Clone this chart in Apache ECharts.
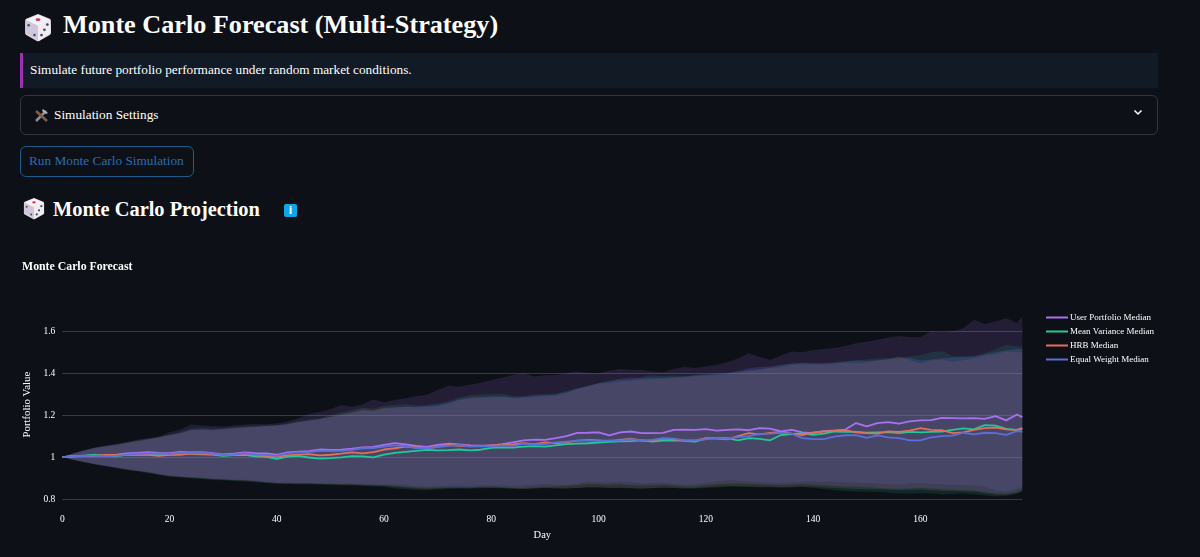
<!DOCTYPE html>
<html>
<head>
<meta charset="utf-8">
<script src="https://cdn.jsdelivr.net/npm/echarts@6/dist/echarts.min.js"></script>
<style>
html,body{margin:0;padding:0;background:#0d1117;width:1200px;height:557px;overflow:hidden;font-family:"Liberation Serif",serif;color:#fff}
.a{position:absolute;white-space:nowrap}
#chart{position:absolute;left:0;top:0;width:1200px;height:557px}
</style>
</head>
<body>
<svg width="0" height="0" style="position:absolute"><defs>
<g id="dice">
<path d="M12 1 L22 5 Q23 5.500 23 7 L23 17 Q23 18.500 22 19 L13 24 Q12 24.500 11 24 L2 19 Q1 18.500 1 17 L1 7 Q1 5.500 2 5 Z" fill="#e6dfe9"/>
<polygon points="12,1.500 22.500,6 12,11 1.500,6" fill="#f6f1f6"/>
<polygon points="12,11 22.500,6 23,17 12,24" fill="#f1ebf2"/>
<polygon points="1.500,6 12,11 12,24 1,17" fill="#cfc7da"/>
<ellipse cx="12" cy="5.800" rx="2" ry="1.200" fill="#e0334a"/>
<circle cx="4" cy="10.500" r="1.100" fill="#4c4668"/><circle cx="9" cy="19" r="1.100" fill="#4c4668"/>
<circle cx="20" cy="10" r="1.200" fill="#4c4668"/><circle cx="17.500" cy="14.500" r="1.200" fill="#4c4668"/><circle cx="15" cy="19" r="1.200" fill="#4c4668"/>
</g></defs></svg>

<svg class="a" style="left:24px;top:12px" width="28" height="31" viewBox="0 0 24 25"><use href="#dice"/></svg>
<div class="a" style="left:63px;top:8px;font-size:26.2px;font-weight:bold;line-height:34px">Monte Carlo Forecast (Multi-Strategy)</div>

<div class="a" style="left:20px;top:53px;width:1135px;height:35px;background:#111a25;border-left:3px solid #a02fb5"></div>
<div class="a" style="left:30px;top:61px;font-size:13.27px;line-height:17px">Simulate future portfolio performance under random market conditions.</div>

<div class="a" style="left:20px;top:95px;width:1136px;height:38px;border:1px solid #30363d;border-radius:6px"></div>
<svg class="a" style="left:34px;top:108px" width="15" height="15" viewBox="0 0 15 15"><path d="M2 13 L12 3" stroke="#8a8f98" stroke-width="2.500"/><path d="M2 3 L13 13" stroke="#8a5a48" stroke-width="2.500"/><path d="M9 1 L14 5 L12 6 L8 3 Z" fill="#aeb2ba"/></svg>
<div class="a" style="left:54px;top:106px;font-size:13.3px;line-height:17px">Simulation Settings</div>
<svg class="a" style="left:1133px;top:109px" width="10" height="7" viewBox="0 0 10 7"><path d="M1.500 1.500 L5 5 L8.500 1.500" fill="none" stroke="#fff" stroke-width="1.500"/></svg>

<div class="a" style="left:20px;top:146px;width:172px;height:29px;border:1px solid #1f5a8a;border-radius:6px"></div>
<div class="a" style="left:29px;top:152px;font-size:13.3px;line-height:17px;color:#2b6cb0">Run Monte Carlo Simulation</div>

<svg class="a" style="left:23px;top:196px" width="22" height="25" viewBox="0 0 24 25"><use href="#dice"/></svg>
<div class="a" style="left:53px;top:196px;font-size:20.4px;font-weight:bold;line-height:26px">Monte Carlo Projection</div>
<div class="a" style="left:284px;top:204px;width:13px;height:13px;background:#0ea5e9;border-radius:2px;font:bold 10px/13px 'DejaVu Sans';text-align:center">i</div>

<div id="chart"></div>
<script>
const days = [
0,2,4,6,8,10,12,14,16,18,
20,22,24,26,28,30,32,34,36,38,
40,42,44,46,48,50,52,54,56,58,
60,62,64,66,68,70,72,74,76,78,
80,82,84,86,88,90,92,94,96,98,
100,102,104,106,108,110,112,114,116,118,
120,122,124,126,128,130,132,134,136,138,
140,142,144,146,148,150,152,154,156,158,
160,162,164,166,168,170,172,174,176,178,179];

const userMedian = [
1,1.004,1.007,1.008,1.009,1.012,1.017,1.02,1.023,1.02,
1.019,1.025,1.022,1.024,1.019,1.013,1.016,1.022,1.019,1.017,
1.011,1.022,1.026,1.028,1.036,1.034,1.035,1.04,1.046,1.048,
1.058,1.066,1.06,1.053,1.049,1.058,1.064,1.06,1.056,1.055,
1.055,1.062,1.07,1.08,1.083,1.082,1.09,1.1,1.115,1.116,
1.118,1.104,1.118,1.122,1.114,1.114,1.115,1.13,1.131,1.13,
1.133,1.126,1.13,1.132,1.128,1.138,1.136,1.122,1.13,1.118,
1.114,1.124,1.127,1.131,1.162,1.146,1.162,1.167,1.159,1.17,
1.175,1.176,1.187,1.186,1.185,1.186,1.182,1.195,1.175,1.203,1.19];
const meanVarianceMedian = [
1,1.003,1.006,1.012,1.006,1.004,1.01,1.013,1.012,1.009,
1.012,1.013,1.015,1.013,1.012,1.006,1.009,1.01,1.003,1.001,
.992,1.002,1.006,.998,.993,.995,.999,1.004,1.003,.999,
1.012,1.02,1.025,1.03,1.034,1.032,1.033,1.036,1.032,1.035,
1.044,1.046,1.045,1.05,1.052,1.05,1.056,1.062,1.064,1.066,
1.069,1.072,1.075,1.076,1.08,1.074,1.078,1.08,1.077,1.074,
1.088,1.091,1.09,1.08,1.09,1.087,1.08,1.105,1.11,1.113,
1.106,1.112,1.122,1.12,1.12,1.116,1.118,1.119,1.114,1.12,
1.118,1.12,1.122,1.13,1.137,1.132,1.152,1.15,1.134,1.128,1.136];
const hrbMedian = [
1,1.004,1.005,1.006,1.01,1.01,1.012,1.011,1.01,1.006,
1.01,1.012,1.016,1.015,1.013,1.01,1.014,1.015,1.008,1.006,
1.002,1.008,1.012,1.014,1.008,1.011,1.016,1.022,1.018,1.024,
1.036,1.042,1.05,1.046,1.04,1.05,1.058,1.054,1.055,1.052,
1.056,1.058,1.06,1.066,1.062,1.07,1.066,1.07,1.078,1.082,
1.08,1.076,1.082,1.088,1.078,1.08,1.088,1.084,1.079,1.078,
1.09,1.088,1.085,1.1,1.114,1.108,1.115,1.12,1.112,1.105,
1.118,1.122,1.125,1.128,1.118,1.114,1.112,1.122,1.12,1.126,
1.138,1.13,1.128,1.114,1.118,1.13,1.138,1.14,1.132,1.13,1.138];
const equalWeightMedian = [
1,1.003,1.005,1.007,1.004,1.006,1.012,1.015,1.018,1.016,
1.015,1.02,1.018,1.02,1.016,1.009,1.012,1.018,1.012,1.01,
1.006,1.018,1.022,1.024,1.03,1.028,1.03,1.034,1.042,1.043,
1.05,1.056,1.052,1.042,1.041,1.048,1.053,1.058,1.05,1.052,
1.05,1.056,1.052,1.064,1.06,1.062,1.07,1.074,1.078,1.08,
1.076,1.08,1.078,1.085,1.08,1.082,1.09,1.088,1.08,1.08,
1.085,1.092,1.088,1.095,1.1,1.11,1.112,1.115,1.112,1.09,
1.086,1.086,1.098,1.104,1.105,1.092,1.104,1.094,1.09,1.08,
1.08,1.094,1.1,1.102,1.116,1.108,1.116,1.114,1.106,1.124,1.122];

const userUpper = [
1,1.018,1.033,1.046,1.055,1.063,1.072,1.082,1.09,1.098,
1.118,1.13,1.155,1.15,1.148,1.146,1.15,1.155,1.158,1.156,
1.16,1.17,1.185,1.205,1.215,1.228,1.248,1.24,1.252,1.275,
1.262,1.272,1.28,1.29,1.297,1.32,1.34,1.335,1.345,1.355,
1.368,1.378,1.392,1.4,1.384,1.39,1.392,1.4,1.408,1.402,
1.4,1.412,1.42,1.416,1.415,1.408,1.404,1.42,1.43,1.425,
1.432,1.44,1.452,1.47,1.495,1.478,1.463,1.485,1.503,1.5,
1.511,1.515,1.52,1.53,1.543,1.55,1.56,1.57,1.578,1.572,
1.571,1.6,1.595,1.6,1.614,1.655,1.635,1.646,1.662,1.64,1.67];
const meanVarianceUpper = [
1,1.017,1.031,1.044,1.053,1.06,1.07,1.08,1.088,1.096,
1.108,1.118,1.135,1.14,1.135,1.138,1.142,1.146,1.148,1.15,
1.152,1.16,1.172,1.18,1.185,1.2,1.212,1.225,1.235,1.23,
1.245,1.25,1.252,1.246,1.25,1.255,1.268,1.285,1.295,1.298,
1.3,1.302,1.292,1.29,1.298,1.3,1.302,1.315,1.33,1.34,
1.355,1.365,1.368,1.37,1.382,1.39,1.385,1.39,1.386,1.392,
1.396,1.4,1.402,1.408,1.414,1.42,1.428,1.435,1.445,1.45,
1.45,1.448,1.452,1.458,1.462,1.465,1.47,1.472,1.476,1.48,
1.486,1.5,1.505,1.482,1.478,1.482,1.496,1.515,1.535,1.528,1.525];
const hrbUpper = [
1,1.016,1.03,1.043,1.051,1.058,1.068,1.077,1.085,1.094,
1.105,1.115,1.13,1.132,1.13,1.135,1.14,1.143,1.145,1.148,
1.15,1.155,1.165,1.175,1.18,1.192,1.205,1.215,1.228,1.225,
1.235,1.238,1.24,1.238,1.24,1.242,1.255,1.272,1.28,1.282,
1.284,1.286,1.28,1.283,1.286,1.29,1.292,1.305,1.325,1.335,
1.35,1.352,1.36,1.365,1.368,1.372,1.375,1.378,1.38,1.385,
1.39,1.392,1.398,1.402,1.41,1.415,1.424,1.43,1.44,1.442,
1.442,1.44,1.445,1.45,1.447,1.452,1.46,1.465,1.48,1.462,
1.448,1.46,1.465,1.455,1.462,1.47,1.485,1.49,1.505,1.5,1.5];
const equalWeightUpper = [
1,1.016,1.03,1.042,1.05,1.058,1.066,1.076,1.084,1.092,
1.104,1.112,1.128,1.13,1.128,1.132,1.136,1.14,1.145,1.148,
1.15,1.158,1.168,1.172,1.182,1.19,1.2,1.21,1.222,1.22,
1.232,1.236,1.24,1.24,1.244,1.248,1.26,1.276,1.284,1.288,
1.29,1.29,1.284,1.287,1.292,1.296,1.298,1.31,1.326,1.34,
1.352,1.36,1.375,1.38,1.376,1.38,1.378,1.382,1.384,1.39,
1.392,1.396,1.4,1.41,1.424,1.43,1.432,1.44,1.446,1.45,
1.445,1.447,1.45,1.455,1.46,1.458,1.462,1.468,1.47,1.474,
1.46,1.465,1.47,1.475,1.48,1.478,1.49,1.5,1.51,1.515,1.515];

const userLower = [
1,.988,.978,.968,.96,.952,.944,.936,.93,.92,
.913,.909,.905,.902,.898,.896,.893,.892,.888,.882,
.879,.878,.877,.878,.876,.875,.873,.874,.872,.87,
.868,.87,.867,.861,.86,.862,.864,.864,.862,.864,
.866,.865,.862,.864,.868,.87,.868,.868,.872,.884,
.88,.878,.884,.88,.874,.876,.878,.872,.868,.87,
.878,.884,.89,.888,.884,.88,.878,.876,.88,.884,
.884,.882,.884,.88,.878,.876,.874,.87,.868,.875,
.875,.872,.87,.868,.867,.864,.858,.84,.836,.85,.858];
const meanVarianceLower = [
1,.986,.975,.965,.956,.947,.938,.931,.923,.914,
.906,.902,.898,.895,.891,.889,.886,.884,.88,.876,
.872,.871,.87,.87,.868,.866,.865,.864,.862,.86,
.858,.85,.846,.843,.842,.845,.848,.85,.849,.851,
.852,.85,.849,.848,.85,.853,.852,.85,.853,.855,
.855,.853,.852,.85,.849,.851,.854,.853,.849,.85,
.853,.855,.858,.859,.857,.855,.856,.854,.855,.857,
.852,.848,.842,.838,.836,.834,.835,.83,.826,.826,
.828,.826,.822,.824,.826,.822,.818,.812,.814,.825,.835];
const hrbLower = [
1,.987,.976,.966,.957,.949,.94,.933,.926,.917,
.909,.905,.901,.898,.894,.892,.889,.887,.883,.879,
.875,.874,.873,.873,.871,.87,.868,.868,.866,.864,
.863,.858,.854,.85,.848,.85,.852,.853,.852,.854,
.854,.852,.85,.848,.85,.852,.85,.85,.852,.856,
.856,.854,.855,.852,.85,.852,.855,.854,.852,.853,
.856,.858,.862,.862,.86,.858,.858,.856,.858,.86,
.858,.855,.852,.85,.848,.846,.846,.844,.842,.843,
.844,.842,.838,.838,.836,.834,.828,.82,.82,.828,.838];
const equalWeightLower = [
1,.987,.977,.967,.958,.95,.942,.934,.927,.918,
.91,.906,.903,.9,.895,.893,.89,.889,.885,.88,
.876,.875,.874,.875,.872,.872,.87,.87,.868,.866,
.865,.862,.858,.855,.852,.854,.855,.856,.855,.857,
.858,.856,.853,.852,.855,.858,.86,.862,.866,.872,
.87,.868,.872,.866,.864,.866,.868,.864,.858,.86,
.866,.87,.872,.874,.872,.87,.868,.866,.868,.87,
.868,.866,.862,.86,.858,.856,.852,.85,.848,.85,
.852,.85,.846,.845,.842,.84,.832,.826,.825,.835,.845];

const names = ['User Portfolio Median','Mean Variance Median','HRB Median','Equal Weight Median'];
const lineColors = ['#a970f0','#20c997','#e0705a','#5b6fd8'];
const bandColors = ['rgba(169,112,240,0.14)','rgba(32,201,151,0.13)','rgba(224,112,90,0.16)','rgba(110,110,240,0.2)'];
const medians = [userMedian,meanVarianceMedian,hrbMedian,equalWeightMedian];
const uppers = [userUpper,meanVarianceUpper,hrbUpper,equalWeightUpper];
const lowers = [userLower,meanVarianceLower,hrbLower,equalWeightLower];
const serif = '"Liberation Serif", serif';

function bandSeries(i){
  const rows = days.map((d,k)=>[d,uppers[i][k],lowers[i][k]]);
  return {
    type:'custom', name:names[i]+' band', silent:true, z:1, clip:true,
    data:rows, encode:{x:0,y:[1,2]},
    renderItem:function(params,api){
      if(params.dataIndex!==0) return null;
      const top = rows.map(r=>api.coord([r[0],r[1]]));
      const bot = rows.map(r=>api.coord([r[0],r[2]])).reverse();
      return {type:'polygon',shape:{points:top.concat(bot)},style:{fill:bandColors[i]},silent:true};
    }
  };
}
function lineSeries(i){
  return {
    type:'line', name:names[i], z:3, symbol:'none', showSymbol:false, silent:true,
    data:days.map((d,k)=>[d,medians[i][k]]),
    lineStyle:{color:lineColors[i],width:1.8}, itemStyle:{color:lineColors[i]}
  };
}
const chart = echarts.init(document.getElementById('chart'),null,{renderer:'canvas'});
chart.setOption({
  backgroundColor:'transparent', animation:false,
  title:{text:'Monte Carlo Forecast',left:22,top:260,textStyle:{color:'#fff',fontFamily:serif,fontSize:11.8,fontWeight:'bold',lineHeight:13},padding:0},
  legend:{orient:'vertical',left:1045,top:313,itemWidth:22,itemHeight:10,itemGap:5,padding:0,selectedMode:false,
    itemStyle:{opacity:0},
    data:names,textStyle:{color:'#fff',fontFamily:serif,fontSize:9,padding:[0,0,0,-3]}},
  grid:{left:62.3,right:177.7,top:310.3,bottom:58},
  xAxis:{type:'value',min:0,max:179,interval:20,name:'Day',nameLocation:'middle',nameGap:31,
    nameTextStyle:{color:'#fff',fontFamily:serif,fontSize:10.5},
    axisLine:{show:false},axisTick:{show:false},splitLine:{show:false},
    axisLabel:{color:'#fff',fontFamily:serif,fontSize:9.5,margin:15,showMaxLabel:false}},
  yAxis:{type:'value',min:0.8,max:1.7,interval:0.2,name:'Portfolio Value',nameLocation:'middle',nameGap:28,
    nameTextStyle:{color:'#fff',fontFamily:serif,fontSize:10.8},
    axisLine:{show:false},axisTick:{show:false},
    splitLine:{show:true,showMaxLine:false,lineStyle:{color:'rgba(255,255,255,0.18)',width:1}},
    axisLabel:{color:'#fff',fontFamily:serif,fontSize:9.5,margin:7,showMaxLabel:false}},
  series:[0,1,2,3].map(bandSeries).concat([0,1,2,3].map(lineSeries))
});
</script>
</body>
</html>
